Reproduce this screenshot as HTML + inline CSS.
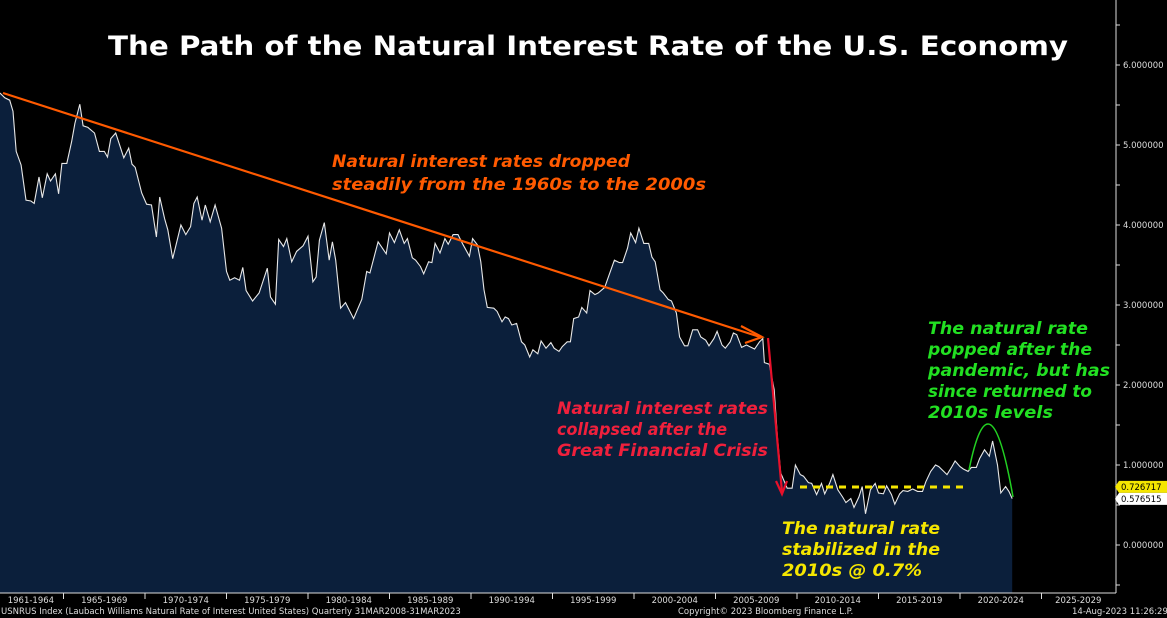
<!DOCTYPE html>
<html><head><meta charset="utf-8"><style>
html,body{margin:0;padding:0;background:#000;}
svg{display:block;}
text{font-family:"DejaVu Sans","Liberation Sans",sans-serif;}
</style></head><body>
<svg id="chart" width="1167" height="618" viewBox="0 0 1167 618" xmlns="http://www.w3.org/2000/svg">
<rect width="1167" height="618" fill="#000"/>
<g id="plot"></g>
<g id="axes"></g>
<text x="108" y="55" fill="#fff" font-weight="bold" font-size="27" textLength="960" lengthAdjust="spacingAndGlyphs">The Path of the Natural Interest Rate of the U.S. Economy</text>
<g>
<line x1="3" y1="93" x2="760" y2="337" stroke="#ff5a00" stroke-width="2.2"/>
<polyline points="741,326 762,337 745,343" fill="none" stroke="#ff5a00" stroke-width="2.2"/>
<line x1="768" y1="338" x2="782" y2="492" stroke="#e8102a" stroke-width="2.2"/>
<polyline points="776,481 782,494 787,481" fill="none" stroke="#e8102a" stroke-width="2.2"/>
<line x1="800" y1="487" x2="965" y2="487" stroke="#f5e600" stroke-width="3" stroke-dasharray="7,6"/>
<path d="M969,470 Q990,366 1013,497" fill="none" stroke="#22d022" stroke-width="1.5"/>
<g font-weight="bold" font-style="italic" font-size="17">
<text fill="#ff5a00"><tspan x="332" y="167" textLength="298" lengthAdjust="spacingAndGlyphs">Natural interest rates dropped</tspan><tspan x="332" y="190" textLength="374" lengthAdjust="spacingAndGlyphs">steadily from the 1960s to the 2000s</tspan></text>
<text fill="#f0203c"><tspan x="557" y="414" textLength="211" lengthAdjust="spacingAndGlyphs">Natural interest rates</tspan><tspan x="557" y="435" textLength="170" lengthAdjust="spacingAndGlyphs">collapsed after the</tspan><tspan x="557" y="456" textLength="211" lengthAdjust="spacingAndGlyphs">Great Financial Crisis</tspan></text>
<text fill="#f5e600"><tspan x="782" y="534" textLength="158" lengthAdjust="spacingAndGlyphs">The natural rate</tspan><tspan x="782" y="555" textLength="158" lengthAdjust="spacingAndGlyphs">stabilized in the</tspan><tspan x="782" y="576" textLength="140" lengthAdjust="spacingAndGlyphs">2010s @ 0.7%</tspan></text>
<text fill="#22e022"><tspan x="928" y="334" textLength="160" lengthAdjust="spacingAndGlyphs">The natural rate</tspan><tspan x="928" y="355" textLength="164" lengthAdjust="spacingAndGlyphs">popped after the</tspan><tspan x="928" y="376" textLength="182" lengthAdjust="spacingAndGlyphs">pandemic, but has</tspan><tspan x="928" y="397" textLength="164" lengthAdjust="spacingAndGlyphs">since returned to</tspan><tspan x="928" y="418" textLength="125" lengthAdjust="spacingAndGlyphs">2010s levels</tspan></text>
</g>
</g>
<g font-size="8.5" fill="#ddd">
<text x="1" y="614">USNRUS Index (Laubach Williams Natural Rate of Interest United States)  Quarterly 31MAR2008-31MAR2023</text>
<text x="678" y="614">Copyright© 2023 Bloomberg Finance L.P.</text>
<text x="1072" y="614">14-Aug-2023 11:26:29</text>
</g>
</svg>
<script>
const years = [1961.1,1961.4,1961.7,1961.9,1962.1,1962.4,1962.7,1963.0,1963.2,1963.5,1963.7,1964.0,1964.2,1964.5,1964.7,1964.9,1965.2,1965.5,1965.7,1966.0,1966.2,1966.5,1966.9,1967.2,1967.5,1967.7,1967.9,1968.2,1968.7,1969.0,1969.2,1969.4,1969.8,1970.1,1970.4,1970.7,1970.9,1971.2,1971.4,1971.7,1972.2,1972.5,1972.8,1973.0,1973.2,1973.5,1973.7,1974.0,1974.3,1974.7,1975.0,1975.2,1975.5,1975.8,1976.0,1976.2,1976.6,1977.0,1977.5,1977.7,1978.0,1978.2,1978.5,1978.7,1979.0,1979.3,1979.7,1980.0,1980.3,1980.5,1980.7,1981.0,1981.3,1981.5,1981.7,1982.0,1982.3,1982.8,1983.3,1983.6,1983.8,1984.3,1984.8,1985.0,1985.3,1985.6,1985.9,1986.1,1986.4,1986.6,1986.9,1987.1,1987.4,1987.6,1987.8,1988.1,1988.4,1988.6,1988.9,1989.2,1989.5,1989.9,1990.1,1990.4,1990.6,1990.8,1991.0,1991.4,1991.6,1991.9,1992.1,1992.3,1992.5,1992.8,1993.1,1993.3,1993.6,1993.8,1994.1,1994.3,1994.6,1994.9,1995.1,1995.4,1995.6,1995.9,1996.1,1996.3,1996.6,1996.8,1997.1,1997.3,1997.6,1997.8,1998.2,1998.5,1998.8,1999.1,1999.3,1999.6,1999.8,2000.1,2000.3,2000.6,2000.9,2001.1,2001.3,2001.6,2001.8,2002.1,2002.3,2002.6,2002.8,2003.1,2003.3,2003.6,2003.9,2004.1,2004.4,2004.6,2004.9,2005.1,2005.4,2005.6,2005.9,2006.1,2006.3,2006.6,2006.9,2007.1,2007.4,2007.7,2007.9,2008.0,2008.3,2008.6,2008.8,2009.0,2009.4,2009.7,2009.9,2010.2,2010.4,2010.7,2010.9,2011.2,2011.5,2011.7,2012.0,2012.2,2012.5,2012.8,2013.0,2013.3,2013.5,2013.8,2014.0,2014.2,2014.5,2014.8,2015.0,2015.3,2015.5,2015.8,2016.0,2016.3,2016.5,2016.8,2017.1,2017.4,2017.7,2017.9,2018.2,2018.5,2018.7,2019.0,2019.2,2019.5,2019.7,2020.0,2020.2,2020.5,2020.7,2021.0,2021.2,2021.5,2021.8,2022.0,2022.3,2022.5,2022.8,2023.0,2023.2];
const rates = [5.65,5.59,5.56,5.42,4.92,4.75,4.31,4.30,4.27,4.60,4.34,4.64,4.55,4.64,4.39,4.77,4.77,5.04,5.27,5.51,5.24,5.22,5.15,4.92,4.92,4.85,5.08,5.15,4.84,4.96,4.76,4.72,4.40,4.26,4.25,3.85,4.35,4.08,3.94,3.58,4.00,3.88,3.98,4.27,4.35,4.06,4.25,4.04,4.25,3.96,3.42,3.31,3.34,3.31,3.47,3.18,3.05,3.15,3.46,3.10,3.01,3.82,3.73,3.83,3.54,3.67,3.74,3.86,3.29,3.35,3.81,4.03,3.56,3.79,3.56,2.96,3.03,2.83,3.07,3.42,3.40,3.79,3.64,3.90,3.78,3.94,3.77,3.83,3.59,3.56,3.48,3.39,3.54,3.53,3.77,3.65,3.83,3.76,3.88,3.88,3.76,3.61,3.83,3.75,3.54,3.19,2.97,2.96,2.92,2.79,2.85,2.83,2.75,2.77,2.54,2.50,2.35,2.44,2.39,2.55,2.46,2.53,2.46,2.42,2.48,2.54,2.54,2.83,2.85,2.97,2.90,3.18,3.13,3.15,3.22,3.39,3.56,3.53,3.53,3.71,3.90,3.78,3.96,3.77,3.77,3.60,3.54,3.19,3.15,3.07,3.05,2.90,2.60,2.49,2.49,2.69,2.69,2.60,2.56,2.49,2.58,2.67,2.50,2.46,2.54,2.65,2.63,2.47,2.50,2.48,2.45,2.54,2.58,2.28,2.26,1.94,1.35,0.90,0.71,0.71,1.00,0.88,0.86,0.78,0.77,0.63,0.77,0.64,0.77,0.88,0.69,0.60,0.53,0.58,0.47,0.60,0.73,0.39,0.69,0.77,0.65,0.64,0.74,0.63,0.51,0.64,0.68,0.67,0.70,0.67,0.67,0.79,0.92,1.00,0.98,0.92,0.88,0.98,1.05,0.98,0.95,0.92,0.97,0.97,1.08,1.19,1.11,1.30,1.00,0.65,0.73,0.67,0.58];
const yTicks = [0,1,2,3,4,5,6];
const xBins = ["1961-1964","1965-1969","1970-1974","1975-1979","1980-1984","1985-1989","1990-1994","1995-1999","2000-2004","2005-2009","2010-2014","2015-2019","2020-2024","2025-2029"];
const xBinStarts = [1961,1965,1970,1975,1980,1985,1990,1995,2000,2005,2010,2015,2020,2025];
const tagValues = [0.726717, 0.576515];

const NS = "http://www.w3.org/2000/svg";
const X = y => 797 + (y - 2010) * 16.3;
const Y = v => 545 - v * 80;
const BASE = 593;
function mk(tag, attrs, parent){const e=document.createElementNS(NS,tag);for(const k in attrs)e.setAttribute(k,attrs[k]);parent.appendChild(e);return e;}
const plot = document.getElementById('plot');
const axes = document.getElementById('axes');

let pts = years.map((y,i)=>X(y).toFixed(1)+","+Y(rates[i]).toFixed(1));
const area = mk('polygon',{points: X(years[0]).toFixed(1)+","+BASE+" "+pts.join(" ")+" "+X(years[years.length-1]).toFixed(1)+","+BASE, fill:'#0b1f3b'}, plot);


const line = mk('polyline',{points: pts.join(" "), fill:'none', stroke:'#e8e8e8', 'stroke-width':1.1}, plot);



const yl = mk('line',{x1:1116,y1:0,x2:1116,y2:BASE,stroke:'#ddd','stroke-width':1}, axes);


const xl = mk('line',{x1:0,y1:BASE,x2:1116,y2:BASE,stroke:'#ddd','stroke-width':1}, axes);



for (let v=-0.5; v<=6.5; v+=0.5){
  const t = mk('line',{x1:1116,y1:Y(v),x2:1120,y2:Y(v),stroke:'#ddd','stroke-width':1}, axes);
  
  
}
yTicks.forEach(v=>{
  const t = mk('text',{x:1123,y:Y(v)+3,'font-size':8.5,fill:'#ddd'}, axes);
  t.textContent = v.toFixed(6);
  
  
});
xBins.forEach((lab,i)=>{
  const s = xBinStarts[i];
  const e = i < xBinStarts.length-1 ? xBinStarts[i+1] : s+5;
  if (i>0){
    const t = mk('line',{x1:X(s),y1:BASE,x2:X(s),y2:BASE+6,stroke:'#ddd','stroke-width':1}, axes);
    
    
  }
  const tx = mk('text',{x:(X(s)+X(e))/2 - (i==xBins.length-1?4:0),y:BASE+10,'font-size':8.5,fill:'#ddd','text-anchor':'middle'}, axes);
  tx.textContent = lab;
  
  
});
const tagColors = ['#f5e600','#ffffff'];
const tagY = [Y(tagValues[0]), Y(tagValues[0])+12];
tagValues.forEach((v,i)=>{
  const g = mk('g',{}, axes);
  
  
  mk('polygon',{points:`1115,${tagY[i]} 1119,${tagY[i]-6} 1167,${tagY[i]-6} 1167,${tagY[i]+6} 1119,${tagY[i]+6}`,fill:tagColors[i]}, g);
  const t = mk('text',{x:1121,y:tagY[i]+3,'font-size':8.5,fill:'#000'}, g);
  t.textContent = v.toFixed(6);
});
</script>
</body></html>
